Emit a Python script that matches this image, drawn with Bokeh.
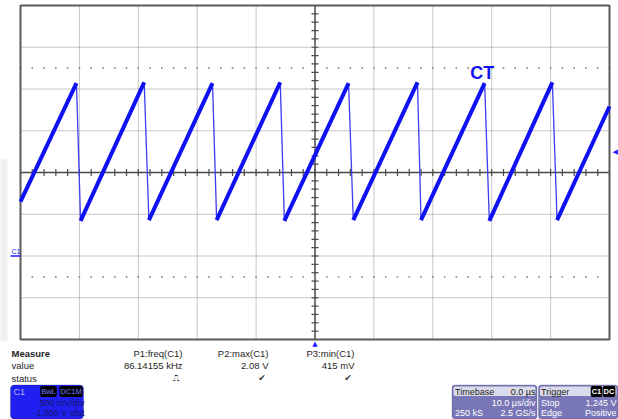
import numpy as np
from bokeh.plotting import figure
from bokeh.models import Range1d, Label, BoxAnnotation
from bokeh.embed import file_html
from bokeh.resources import INLINE

# ---------------- data ----------------
# Channel C1: 500 mV/div, -1.000 V offset; timebase 10 us/div
# sawtooth: ramp i goes from (ramp_start_t[i], ramp_start_v[i]) to (peak_t[i], peak_v[i]);
# the fast fall goes from peak i to the next ramp start.
ramp_start_t = [-50.0, -39.8, -28.2, -16.7, -5.2, 6.5, 18.0, 29.6, 41.1]   # us (first = left edge)
ramp_start_v = [0.65, 0.42, 0.43, 0.43, 0.42, 0.43, 0.43, 0.42, 0.43]      # V
peak_t       = [-40.5, -29.0, -17.4, -5.9, 5.7, 17.4, 28.8, 40.3, 50.0]    # us (last = right edge)
peak_v       = [2.07, 2.08, 2.07, 2.08, 2.07, 2.08, 2.07, 2.08, 1.79]      # V

trigger_level = 1.245   # V
ground_level = 0.0      # V
trigger_time = 0.0      # us

row_labels  = ["Measure", "value", "status"]
meas_names  = ["P1:freq(C1)", "P2:max(C1)", "P3:min(C1)"]
meas_values = ["86.14155 kHz", "2.08 V", "415 mV"]
meas_status = ["\u238d", "\u2714", "\u2714"]

ch_label = "C1"
ch_badges = ["BwL", "DC1M"]
ch_lines = ["500 mV/div", "-1.000 V ofst"]

tb_header = ["Timebase", "0.0 \u00b5s"]
tb_rows = [["", "10.0 \u00b5s/div"], ["250 kS", "2.5 GS/s"]]
trig_header = "Trigger"
trig_badges = ["C1", "DC"]
trig_rows = [["Stop", "1.245 V"], ["Edge", "Positive"]]
trace_name = "CT"

# ---------------- geometry (screen graticule: 10 x 8 divisions) ----------------
W, H = 618, 419
GL, GR = 20.0, 609.0         # graticule left/right in page px
PXT = (GR - GL) / 100.0      # px per us
YC = 172.0                   # page y of centre line (1.0 V)
PXV = 83.5                   # px per volt

def dx(X):   # page x -> time
    return -50.0 + (X - GL) / PXT

def dy(Y):   # page y -> volts
    return 1.0 + (YC - Y) / PXV

p = figure(width=W, height=H, output_backend="svg", toolbar_location=None,
           x_range=Range1d(dx(0), dx(W)), y_range=Range1d(dy(H), dy(0)),
           x_axis_location=None, y_axis_location=None,
           min_border_left=0, min_border_right=0, min_border_top=0, min_border_bottom=0)
p.xgrid.visible = False
p.ygrid.visible = False
p.background_fill_color = "white"
p.border_fill_color = "white"
p.outline_line_color = None

# light side strip at the far left
p.add_layout(BoxAnnotation(left=dx(-4), right=dx(7), top=dy(158), bottom=dy(341),
                           fill_color="#f1f1f1", fill_alpha=1, line_color=None,
                           border_radius=3))

T0, T1, V0, V1 = -50.0, 50.0, -1.0, 3.0
GRID = "#8e8e8e"
gx = np.arange(-40, 41, 10.0)
gx = gx[gx != 0]
p.segment(x0=gx, y0=np.full(len(gx), V0), x1=gx, y1=np.full(len(gx), V1),
          line_color=GRID, line_dash="1 1", line_width=1)
gy = np.arange(-0.5, 2.51, 0.5)
gy = gy[np.abs(gy - 1.0) > 1e-6]
p.segment(x0=np.full(len(gy), T0), y0=gy, x1=np.full(len(gy), T1), y1=gy,
          line_color=GRID, line_dash="1 1", line_width=1)
# centre axes
p.segment(x0=[0.0, T0], y0=[V0, 1.0], x1=[0.0, T1], y1=[V1, 1.0],
          line_color="#4a4a4a", line_width=1.5)
# minor tick marks on the centre axes
tx = np.arange(-50, 50.01, 2.0)
p.scatter(x=tx, y=np.full(len(tx), 1.0), marker="dash", angle=np.pi / 2, size=7,
          line_color="#4a4a4a", line_width=1.2)
vy = np.arange(-1.0, 3.01, 0.1)
p.scatter(x=np.zeros(len(vy)), y=vy, marker="dash", size=7,
          line_color="#4a4a4a", line_width=1.2)
# dotted rows at +/- 2.5 div
for v in (2.25, -0.25):
    p.scatter(x=tx, y=np.full(len(tx), v), marker="square", size=1.6,
              fill_color="#8a8a8a", line_color=None)
# graticule border
p.quad(left=[T0], right=[T1], bottom=[V0], top=[V1], fill_color=None,
       line_color="#5a5a5a", line_width=2)

# ---------------- trace ----------------
TRACE = "#1010f4"
p.segment(x0=peak_t[:-1], y0=peak_v[:-1], x1=ramp_start_t[1:], y1=ramp_start_v[1:],
          line_color="#3c3cf0", line_width=1.3)
p.segment(x0=ramp_start_t, y0=ramp_start_v, x1=peak_t, y1=peak_v,
          line_color=TRACE, line_width=4)

p.add_layout(Label(x=28.4, y=2.19, text=trace_name, text_align="center",
                   text_baseline="middle", text_font="Liberation Sans",
                   text_font_style="bold", text_font_size="18px", text_color=TRACE))

# markers: trigger time, trigger level, ground
MARK = "#1a1aff"
p.add_layout(Label(x=trigger_time, y=V0, y_offset=-4, text="\u25b2", text_align="center",
                   text_baseline="middle", text_font="DejaVu Sans",
                   text_font_size="7px", text_color=MARK))
p.add_layout(Label(x=T1, y=trigger_level, x_offset=3, text="\u25c0", text_align="left",
                   text_baseline="middle", text_font="DejaVu Sans",
                   text_font_size="7px", text_color=MARK))
p.add_layout(Label(x=T0, y=ground_level, x_offset=-9, y_offset=1, text=ch_label,
                   text_align="left", text_baseline="bottom", text_font="Liberation Sans",
                   text_font_size="7px", text_color=MARK))
p.segment(x0=[dx(10)], y0=[ground_level], x1=[T0], y1=[ground_level],
          line_color=MARK, line_width=1.5)

# ---------------- bottom information panel ----------------
FONT = "Liberation Sans"

def lab(X, Y, text, align="left", size="9.5px", color="#1e1e1e", style="normal",
        font=FONT, bg=None, pad=0):
    kw = {}
    if bg is not None:
        kw = dict(background_fill_color=bg, background_fill_alpha=1.0, padding=pad,
                  border_radius=2)
    p.add_layout(Label(x=dx(X), y=dy(Y), text=text, text_align=align,
                       text_baseline="middle", text_font=font, text_font_size=size,
                       text_font_style=style, text_color=color, **kw))

rows_y = [352.5, 365, 377.5]
lab(11, rows_y[0], row_labels[0], style="bold")
lab(11, rows_y[1], row_labels[1])
lab(11, rows_y[2], row_labels[2])
col_right = [182, 268, 354]
for i in range(3):
    lab(col_right[i], rows_y[0], meas_names[i], align="right")
    lab(col_right[i], rows_y[1], meas_values[i], align="right")
    lab(col_right[i] - 6.5, rows_y[2], meas_status[i], align="center", size="9px",
        font="DejaVu Sans", color="#333333")

BT, BB = 384.5, 418.5
BS = "9px"
# channel box
p.add_layout(BoxAnnotation(left=dx(10), right=dx(83), top=dy(BT), bottom=dy(BB),
                           fill_color="#1f1ff2", fill_alpha=1, line_color="#14147a",
                           line_width=1, border_radius=4))
lab(13, 391, ch_label, size=BS, color="#b4b4f0")
lab(48, 391, ch_badges[0], align="center", size="7.5px", color="#7a7aff",
    bg="black", pad=1)
lab(70.5, 391, ch_badges[1], align="center", size="7.5px", color="#7a7aff",
    bg="black", pad=1)
lab(84, 402, ch_lines[0], align="right", size=BS, color="#15155e")
lab(84, 412.5, ch_lines[1], align="right", size=BS, color="#15155e")

BOXC = "#7876b6"
HEADC = "#dcdbeb"
# timebase box
p.add_layout(BoxAnnotation(left=dx(451.5), right=dx(536.5), top=dy(BT), bottom=dy(BB),
                           fill_color=BOXC, fill_alpha=1, line_color="#4a4880",
                           line_width=1, border_radius=3))
p.add_layout(BoxAnnotation(left=dx(453), right=dx(535), top=dy(386), bottom=dy(395.5),
                           fill_color=HEADC, fill_alpha=1, line_color=None, border_radius=2))
lab(454.5, 391, tb_header[0], size=BS, color="#202020")
lab(535, 391, tb_header[1], align="right", size=BS, color="#202020")
lab(535, 402, tb_rows[0][1], align="right", size=BS, color="white")
lab(454.5, 412.5, tb_rows[1][0], size=BS, color="white")
lab(535, 412.5, tb_rows[1][1], align="right", size=BS, color="white")

# trigger box
p.add_layout(BoxAnnotation(left=dx(538), right=dx(617.5), top=dy(BT), bottom=dy(BB),
                           fill_color=BOXC, fill_alpha=1, line_color="#4a4880",
                           line_width=1, border_radius=3))
p.add_layout(BoxAnnotation(left=dx(539.5), right=dx(616), top=dy(386), bottom=dy(395.5),
                           fill_color=HEADC, fill_alpha=1, line_color=None, border_radius=2))
lab(540.5, 391, trig_header, size=BS, color="#202020")
lab(596, 391, trig_badges[0], align="center", size="7.5px", color="white",
    style="bold", bg="black", pad=1)
lab(608.5, 391, trig_badges[1], align="center", size="7.5px", color="white",
    style="bold", bg="black", pad=1)
lab(540.5, 402, trig_rows[0][0], size=BS, color="white")
lab(616, 402, trig_rows[0][1], align="right", size=BS, color="white")
lab(540.5, 412.5, trig_rows[1][0], size=BS, color="white")
lab(616, 412.5, trig_rows[1][1], align="right", size=BS, color="white")

open("out.html", "w").write(file_html(p, INLINE))
